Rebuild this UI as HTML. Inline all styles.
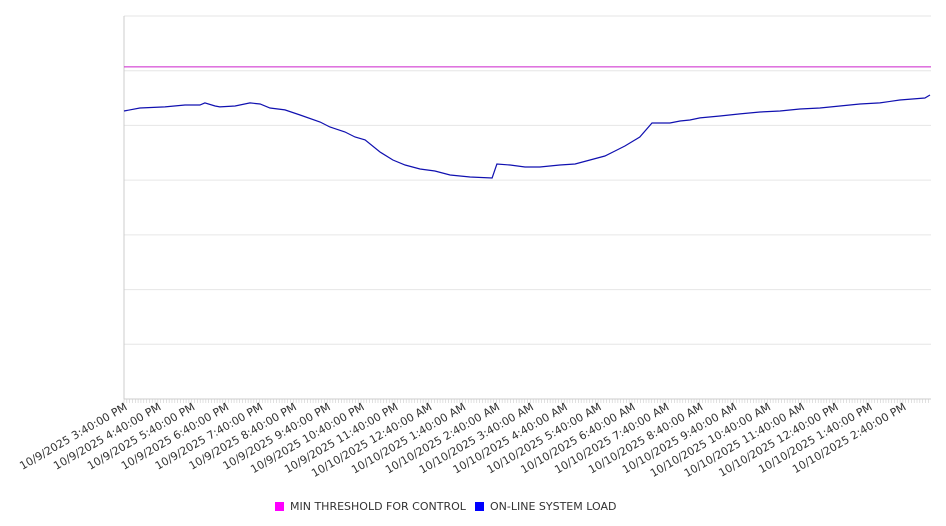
<!DOCTYPE html>
<html><head><meta charset="utf-8"><style>
html,body{margin:0;padding:0;background:#fff;}
svg{display:block;font-family:"DejaVu Sans","Liberation Sans",sans-serif;}
</style></head><body>
<svg id="chart" width="946" height="526" viewBox="0 0 946 526" xmlns="http://www.w3.org/2000/svg">
<g id="grid"></g>
<g id="xaxis"></g>
<g id="series"></g>
<g>
 <g>
  <rect x="275" y="502" width="9" height="9" fill="#ff00ff"/>
  <text x="290" y="510" font-size="11" fill="#333">MIN THRESHOLD FOR CONTROL</text>
 </g>
 <g>
  <rect x="475" y="502" width="9" height="9" fill="#0000ff"/>
  <text x="490" y="510" font-size="11" fill="#333">ON-LINE SYSTEM LOAD</text>
 </g>
</g>
</svg>
<script>
const loadHours=[0,.47,1.21,1.8,2.24,2.39,2.69,2.83,3.28,3.72,4.02,4.31,4.75,5.2,5.79,6.08,6.52,6.82,7.12,7.56,7.94,8.3,8.74,9.18,9.63,10.22,10.87,11.01,11.4,11.84,12.28,12.87,13.32,13.76,14.2,14.5,14.79,15.23,15.59,16.12,16.42,16.71,17.01,17.6,18.19,18.78,19.37,19.96,20.55,21.14,21.73,22.32,22.91,23.65,23.8];
const loadValues=[5264,5319,5338,5374,5374,5411,5356,5338,5356,5411,5392,5319,5283,5191,5063,4972,4881,4789,4735,4515,4368,4277,4204,4168,4094,4058,4040,4295,4277,4241,4241,4277,4295,4368,4441,4533,4624,4789,5045,5045,5081,5100,5137,5173,5210,5246,5264,5301,5319,5356,5392,5411,5465,5502,5557];
const thresholdValue=6070;
const xLabels=["10/9/2025 3:40:00 PM","10/9/2025 4:40:00 PM","10/9/2025 5:40:00 PM","10/9/2025 6:40:00 PM","10/9/2025 7:40:00 PM","10/9/2025 8:40:00 PM","10/9/2025 9:40:00 PM","10/9/2025 10:40:00 PM","10/9/2025 11:40:00 PM","10/10/2025 12:40:00 AM","10/10/2025 1:40:00 AM","10/10/2025 2:40:00 AM","10/10/2025 3:40:00 AM","10/10/2025 4:40:00 AM","10/10/2025 5:40:00 AM","10/10/2025 6:40:00 AM","10/10/2025 7:40:00 AM","10/10/2025 8:40:00 AM","10/10/2025 9:40:00 AM","10/10/2025 10:40:00 AM","10/10/2025 11:40:00 AM","10/10/2025 12:40:00 PM","10/10/2025 1:40:00 PM","10/10/2025 2:40:00 PM"];
const yTicks=[0,1000,2000,3000,4000,5000,6000,7000];

const L=124,R=931,T=16,B=399,XMAX=23.83,YMAX=7000;
const xs=h=>L+h/XMAX*(R-L);
const ys=v=>B-v/YMAX*(B-T);
const NS="http://www.w3.org/2000/svg";
function mk(tag,attrs,parent){const e=document.createElementNS(NS,tag);for(const k in attrs)e.setAttribute(k,attrs[k]);parent.appendChild(e);return e;}
const grid=document.getElementById('grid'),xa=document.getElementById('xaxis'),se=document.getElementById('series');
yTicks.forEach(v=>{const l=mk('line',{x1:L,x2:R,y1:ys(v),y2:ys(v),stroke:'#e6e6e6','stroke-width':1},grid);

});
const ax=mk('line',{x1:L,x2:L,y1:T,y2:B,stroke:'#ccc','stroke-width':1},xa);


const bx=mk('line',{x1:L,x2:R,y1:B,y2:B,stroke:'#ccc','stroke-width':1},xa);


for(let m=0;m<=XMAX*60;m+=5){const x=xs(m/60);mk('line',{x1:x,x2:x,y1:B,y2:B+4,stroke:'#ccc','stroke-width':0.6},xa);}
xLabels.forEach((s,i)=>{const x=xs(i);const t=mk('text',{x:x+4,y:B+10,'font-size':11,fill:'#333','text-anchor':'end',transform:`rotate(-30 ${x+4} ${B+10})`},xa);t.textContent=s;

});
const th=mk('line',{x1:L,x2:R,y1:ys(thresholdValue),y2:ys(thresholdValue),stroke:'#cc22cc','stroke-width':1},se);


const pl=mk('polyline',{points:loadHours.map((h,i)=>xs(h).toFixed(1)+','+ys(loadValues[i]).toFixed(1)).join(' '),fill:'none',stroke:'#1010b0','stroke-width':1.2},se);


</script>
</body></html>
